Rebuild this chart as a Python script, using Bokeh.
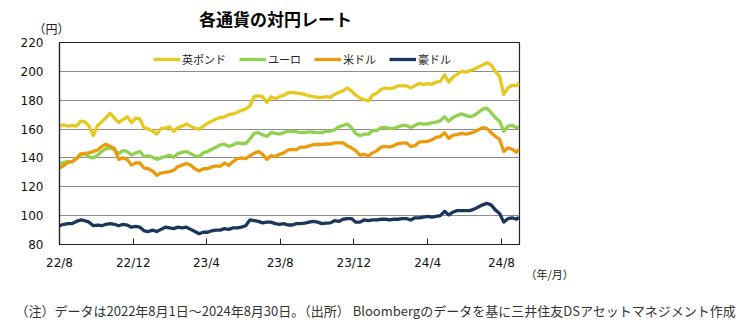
import pandas as pd
from bokeh.plotting import figure
from bokeh.models import Range1d, FixedTicker, Label, Legend, LegendItem
from bokeh.embed import file_html
from bokeh.resources import INLINE

# ---------------- data (weekly readings, 2022-08-01 .. 2024-08-30) ----------------
start_date = "2022-08-01"
dates = list(pd.date_range(start_date, "2024-08-26", freq="7D")) + [pd.Timestamp("2024-08-30")]

gbp = [
    162.0, 163.0, 162.0, 162.5, 162.0,
    165.5, 165.0, 162.0, 155.5,
    162.5, 165.0, 168.0, 171.0, 167.5,
    164.5, 166.5, 168.5, 164.5,
    167.5, 167.0, 161.0, 160.0,
    158.5, 156.5, 160.5, 160.5, 161.5,
    158.5, 161.0, 162.0, 163.5,
    162.0, 160.5, 160.0, 162.0,
    164.0, 165.5, 167.0, 168.0,
    168.5, 170.0, 170.5, 171.5, 173.0,
    174.0, 176.0, 182.5, 183.0,
    182.5, 178.5, 182.5, 181.0, 182.5,
    183.5, 185.0, 185.5, 185.0,
    184.5, 184.0, 183.0, 182.5,
    182.0, 182.0, 182.5, 182.0, 184.0,
    185.5, 186.5, 188.5, 186.5,
    183.5, 181.5, 180.5, 179.5,
    183.5, 185.0, 187.5, 188.5, 188.0,
    188.5, 190.0, 190.0, 190.0,
    188.5, 190.0, 191.5, 191.0,
    191.5, 191.0, 192.5, 193.0, 197.5,
    192.5, 196.0, 198.0, 200.0,
    199.5, 200.5, 201.5, 203.0,
    204.5, 206.0, 204.5, 200.0, 196.5,
    184.0, 188.5, 190.5, 190.0, 192.0,
]

eur = [
    135.5, 137.0, 137.5, 137.5, 139.5,
    142.0, 143.0, 140.5, 140.0,
    142.0, 144.5, 146.5, 147.0, 145.5,
    143.0, 145.0, 144.5, 142.0,
    143.5, 144.5, 141.0, 141.5,
    140.5, 139.0, 140.0, 141.0, 142.0,
    140.5, 143.0, 143.8, 144.5,
    143.0, 141.5, 141.0, 143.5,
    144.5, 146.0, 147.5, 149.0,
    149.5, 148.0, 149.0, 150.5, 150.0,
    150.0, 153.0, 157.0, 157.5,
    156.0, 155.0, 157.5, 157.0, 156.5,
    157.5, 158.5, 158.5, 158.0,
    157.5, 157.5, 158.0, 157.8,
    157.5, 157.5, 158.5, 158.5, 159.5,
    161.5, 162.5, 163.5, 161.0,
    157.0, 155.5, 156.5, 156.5,
    159.0, 159.0, 161.0, 161.0, 160.5,
    160.5, 161.5, 162.5, 162.5,
    161.0, 162.5, 164.0, 163.5,
    163.5, 164.5, 164.8, 165.8, 168.5,
    165.5, 168.0, 169.5, 170.5,
    169.5, 168.5, 169.5, 171.5,
    173.8, 174.5, 171.5, 168.0, 165.5,
    158.5, 162.0, 162.5, 161.0, 161.5,
]

usd = [
    133.0, 134.5, 137.0, 137.5, 139.5,
    142.8, 143.2, 143.5, 144.5,
    145.5, 148.0, 149.5, 148.0, 146.5,
    139.0, 140.0, 139.0, 135.0,
    136.5, 136.5, 133.0, 132.5,
    131.0, 128.0, 129.5, 130.0, 130.5,
    131.5, 134.0, 135.0, 136.2,
    135.0, 132.5, 131.0, 132.5,
    132.5, 133.8, 134.5, 134.2,
    136.5, 134.8, 137.5, 139.5, 140.0,
    139.5, 141.5, 143.2, 144.5,
    142.5, 139.0, 141.5, 141.0, 142.5,
    143.5, 145.5, 146.0, 145.8,
    147.5, 147.5, 148.3, 149.2,
    149.4, 149.3, 149.8, 149.6, 150.5,
    150.5, 150.5, 148.5, 147.0,
    145.0, 142.0, 142.5, 141.5,
    143.5, 145.0, 147.5, 148.0, 147.5,
    148.5, 150.0, 150.2, 150.5,
    148.0, 148.5, 151.0, 151.3,
    151.5, 152.5, 154.3, 154.8, 157.5,
    153.5, 155.8, 156.2, 157.0,
    156.5, 157.0, 158.0, 159.5,
    161.0, 160.5, 157.5, 155.0, 153.0,
    144.5, 147.0, 146.0, 144.0, 146.2,
]

aud = [
    93.0, 94.0, 94.5, 94.5, 96.0,
    97.0, 96.5, 95.5, 93.0,
    93.5, 93.0, 94.0, 94.5, 94.0,
    93.0, 94.0, 93.5, 92.0,
    92.5, 92.0, 89.5, 89.0,
    90.0, 89.0, 90.5, 92.0, 91.5,
    91.0, 92.0, 91.5, 92.0,
    90.5, 89.0, 87.5, 88.5,
    88.5, 89.5, 90.0, 90.0,
    91.0, 90.5, 91.5, 91.5, 92.0,
    93.0, 97.0, 96.5, 96.0,
    95.0, 95.5, 95.5, 94.5, 94.0,
    94.5, 93.5, 93.5, 94.5,
    94.5, 94.8, 95.5, 96.0,
    95.5, 94.5, 94.8, 95.0, 96.5,
    96.0, 97.5, 98.0, 98.0,
    95.5, 95.5, 97.0, 96.5,
    97.0, 97.0, 97.5, 97.5, 97.0,
    97.5, 97.5, 98.0, 98.0,
    97.0, 98.5, 98.5, 99.0,
    99.5, 99.0, 99.5, 100.0, 103.0,
    100.5, 102.5, 103.5, 103.5,
    103.5, 103.5, 104.5, 106.0,
    107.5, 108.5, 107.5, 104.0, 101.5,
    95.5, 98.0, 98.5, 97.5, 98.8,
]

series_names = ["英ポンド", "ユーロ", "米ドル", "豪ドル"]
series_values = [gbp, eur, usd, aud]
series_colors = ["#E6C81E", "#92D050", "#EB9A0C", "#1B365D"]

tick_dates = ["2022-08-01", "2022-12-01", "2023-04-01", "2023-08-01",
              "2023-12-01", "2024-04-01", "2024-08-01"]
tick_labels = ["22/8", "22/12", "23/4", "23/8", "23/12", "24/4", "24/8"]
y_ticks = [80, 100, 120, 140, 160, 180, 200, 220]

title_text = "各通貨の対円レート"
y_unit = "（円）"
x_unit = "（年/月）"
note_text = "（注）データは2022年8月1日～2024年8月30日。（出所） Bloombergのデータを基に三井住友DSアセットマネジメント作成"

# ---------------- build ----------------
t0 = pd.Timestamp(start_date)
xs = [(d - t0).days for d in dates]
tick_pos = [(pd.Timestamp(d) - t0).days for d in tick_dates]
x_end = (pd.Timestamp("2024-08-31") - t0).days

p = figure(width=749, height=330, output_backend="svg", toolbar_location=None,
           x_range=Range1d(0, x_end), y_range=Range1d(80, 220),
           min_border_left=59, min_border_right=230, min_border_top=41, min_border_bottom=86)
p.background_fill_color = "white"
p.border_fill_color = "white"
p.outline_line_color = "#222222"
p.outline_line_width = 1.2

p.xgrid.visible = False
p.ygrid.grid_line_color = "#8C8C8C"
p.ygrid.grid_line_width = 1.2
p.ygrid.ticker = FixedTicker(ticks=y_ticks)

p.yaxis.ticker = FixedTicker(ticks=y_ticks)
p.yaxis.major_tick_in = 0
p.yaxis.major_tick_out = 0
p.yaxis.minor_tick_line_color = None
p.yaxis.major_label_standoff = 16
p.yaxis.axis_line_color = "#222222"
p.yaxis.axis_line_width = 1.2

p.xaxis.ticker = FixedTicker(ticks=tick_pos)
p.xaxis.major_label_overrides = {tp: lab for tp, lab in zip(tick_pos, tick_labels)}
p.xaxis.major_tick_in = 6
p.xaxis.major_tick_out = 0
p.xaxis.minor_tick_line_color = None
p.xaxis.major_label_standoff = 11
p.xaxis.axis_line_color = "#222222"
p.xaxis.axis_line_width = 1.2
p.xaxis.major_tick_line_color = "#222222"

for ax in (p.xaxis, p.yaxis):
    ax.major_label_text_font = "DejaVu Sans"
    ax.major_label_text_font_size = "12px"
    ax.major_label_text_color = "#111111"

items = []
for name, vals, col in zip(series_names, series_values, series_colors):
    r = p.line(xs, vals, line_color=col, line_width=3.3, line_join="round")
    items.append(LegendItem(label=name, renderers=[r]))

legend = Legend(items=items, orientation="horizontal", location=(94, 177),
                glyph_width=27, glyph_height=12, label_standoff=2, spacing=13,
                padding=0, margin=0, border_line_alpha=0, background_fill_alpha=0,
                label_text_font="Noto Sans CJK JP", label_text_font_size="11px",
                label_text_color="#222222", label_height=12)
p.add_layout(legend)

# texts outside the frame: labels placed in the side panels (not clipped), canvas units
jp = "Noto Sans CJK JP"
p.add_layout(Label(x=275, y=18, x_units="canvas", y_units="canvas", text=title_text,
                   text_font=jp, text_font_size="17px", text_font_style="bold",
                   text_align="center", text_baseline="middle", text_color="#000000"), "above")
p.add_layout(Label(x=51, y=28, x_units="canvas", y_units="canvas", text=y_unit,
                   text_font=jp, text_font_size="12px",
                   text_align="center", text_baseline="middle", text_color="#222222"), "above")
p.add_layout(Label(x=525, y=273, x_units="canvas", y_units="canvas", text=x_unit,
                   text_font=jp, text_font_size="11px",
                   text_align="left", text_baseline="middle", text_color="#222222"), "below")
p.add_layout(Label(x=15, y=310, x_units="canvas", y_units="canvas", text=note_text,
                   text_font=jp, text_font_size="13px",
                   text_align="left", text_baseline="middle", text_color="#333333"), "below")

open("out.html", "w").write(file_html(p, INLINE))
